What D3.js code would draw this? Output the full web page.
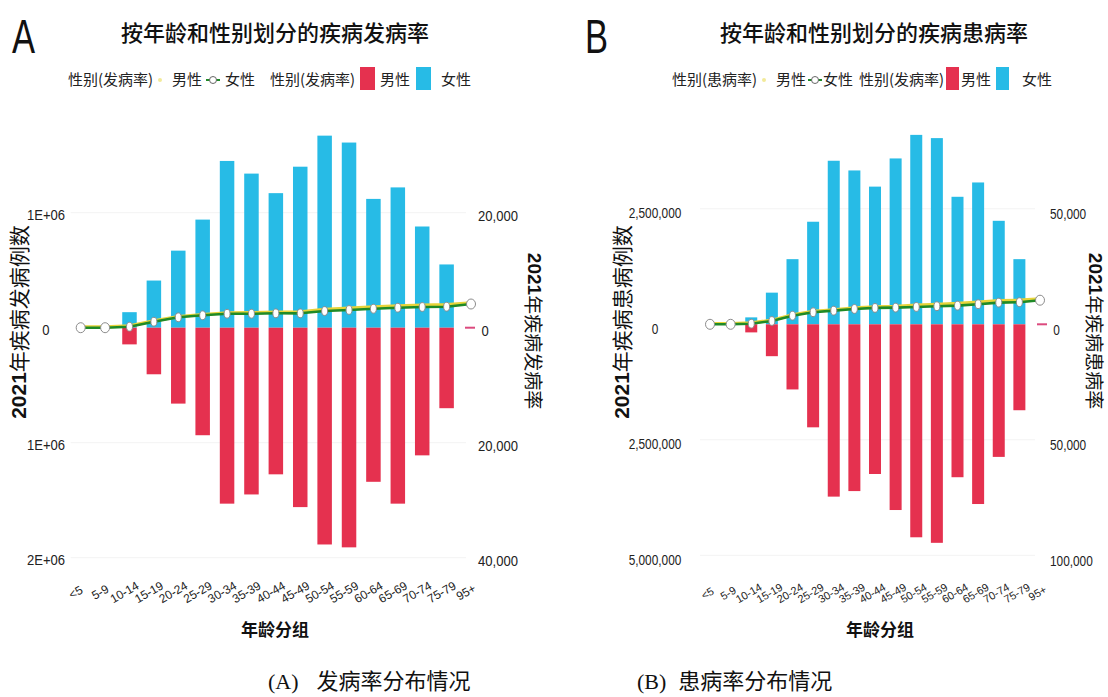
<!DOCTYPE html>
<html><head><meta charset="utf-8">
<script src="https://cdn.jsdelivr.net/npm/d3@7"></script>
<style>body{margin:0;background:#fff} svg{display:block}</style>
</head><body>
<svg id="c" width="1108" height="697"></svg>
<script>
// ---------- data ----------
const ageGroups = ["<5","5-9","10-14","15-19","20-24","25-29","30-34","35-39","40-44","45-49","50-54","55-59","60-64","65-69","70-74","75-79","95+"];

// Panel A: incidence
const incFemaleCases = [0,0,135000,410000,670000,940000,1450000,1340000,1170000,1400000,1670000,1610000,1120000,1220000,880000,550000,0];
const incMaleCases   = [0,0,145000,405000,660000,935000,1530000,1450000,1275000,1560000,1885000,1910000,1340000,1530000,1110000,700000,0];
const incFemaleRate  = [0,0,170,1040,1810,2160,2430,2430,2500,2500,2900,3080,3300,3480,3600,3650,4120];
const incMaleRate    = [0,0,170,1040,1810,2160,2460,2490,2570,2620,3060,3250,3480,3650,3790,3860,4180];
const incLeftTicks   = [1000000,0,-1000000,-2000000];
const incRightTicks  = [20000,0,-20000,-40000];

// Panel B: prevalence
const prevFemaleCases = [0,0,150000,685000,1410000,2220000,3540000,3330000,2980000,3590000,4100000,4030000,2760000,3070000,2240000,1410000,0];
const prevMaleCases   = [0,0,175000,690000,1410000,2230000,3730000,3610000,3240000,4020000,4610000,4730000,3310000,3890000,2870000,1860000,0];
const prevFemaleRate  = [0,0,260,1430,3740,5220,5910,6650,7090,7220,7520,7830,8090,8700,9390,9570,10430];
const prevMaleRate    = [0,0,260,1430,3740,5220,5960,6760,7260,7460,7920,8320,8680,9320,9900,10080,10650];
const prevLeftTicks   = [2500000,0,-2500000,-5000000];
const prevRightTicks  = [50000,0,-50000,-100000];

// ---------- drawing ----------
const svg = d3.select("#c");
const CJK = "'Noto Sans CJK SC', sans-serif";
const LAT = "'Liberation Sans', Arial, sans-serif";
const BLUE = "#27bbe6", RED = "#e5314f", GREEN = "#1f8a27", YELLOW = "#e8d43a";

function panel(cfg) {
  const g = svg.append("g");
  const x = d3.scalePoint().domain(ageGroups).range(cfg.xRange);
  const yL = d3.scaleLinear().domain(cfg.leftDomain).range(cfg.yRange);
  const yR = d3.scaleLinear().domain(cfg.rightDomain).range(cfg.yRange);
  const bw = cfg.barWidth;

  // faint grid
  g.append("g").selectAll("line").data(cfg.leftTicks.filter(d => d !== 0)).join("line")
    .attr("x1", cfg.xRange[0] - 10).attr("x2", cfg.xRange[1] - 5)
    .attr("y1", d => yL(d)).attr("y2", d => yL(d))
    .attr("stroke", "#f3f3f3").attr("stroke-width", 1);

  const rows = ageGroups.map((a, i) => ({a, f: cfg.femaleCases[i], m: cfg.maleCases[i], fr: cfg.femaleRate[i], mr: cfg.maleRate[i]}));
  const barRows = rows.filter(d => d.f > 0 || d.m > 0);

  g.append("g").selectAll("rect").data(barRows).join("rect")
    .attr("x", d => x(d.a) - bw / 2).attr("width", bw)
    .attr("y", d => yL(d.f)).attr("height", d => yL(0) - yL(d.f))
    .attr("fill", BLUE);
  g.append("g").selectAll("rect").data(barRows).join("rect")
    .attr("x", d => x(d.a) - bw / 2).attr("width", bw)
    .attr("y", yL(0)).attr("height", d => yL(-d.m) - yL(0))
    .attr("fill", RED);

  // lines
  const lineM = d3.line().x(d => x(d.a)).y(d => yR(d.mr) - 0.8);
  const lineF = d3.line().x(d => x(d.a)).y(d => yR(d.fr));
  g.append("path").datum(rows).attr("d", lineM).attr("fill", "none")
    .attr("stroke", YELLOW).attr("stroke-width", 3.2).attr("stroke-linejoin", "round");
  g.append("path").datum(rows).attr("d", lineF).attr("fill", "none")
    .attr("stroke", GREEN).attr("stroke-width", 2.6).attr("stroke-linejoin", "round");

  const n = rows.length;
  g.append("g").selectAll("ellipse").data(rows).join("ellipse")
    .attr("cx", d => x(d.a)).attr("cy", d => yR(d.fr))
    .attr("rx", (d, i) => (i < 2 || i === n - 1) ? 4.5 : 3)
    .attr("ry", (d, i) => (i < 2 || i === n - 1) ? 5 : 4.4)
    .attr("fill", "#fff").attr("stroke", "#8c8c8c").attr("stroke-width", 1);

  // left axis
  const ax = g.append("g").attr("transform", `translate(${cfg.leftLabelX},0)`)
    .call(d3.axisLeft(yL).tickValues(cfg.leftTicks).tickSize(0).tickPadding(0).tickFormat(cfg.leftFmt));
  ax.select(".domain").remove();
  ax.selectAll("text").attr("text-anchor", "middle").attr("x", 0).attr("dy", cfg.leftDy)
    .attr("transform", `scale(${cfg.tickScale},1)`)
    .attr("font-family", LAT).attr("font-size", 15).attr("fill", "#222");

  // right axis
  const ar = g.append("g").attr("transform", `translate(${cfg.rightLabelX},0)`)
    .call(d3.axisRight(yR).tickValues(cfg.rightTicks).tickSize(0).tickPadding(0).tickFormat(cfg.rightFmt));
  ar.select(".domain").remove();
  ar.selectAll("text").attr("text-anchor", "start").attr("x", d => d === 0 ? 4 : 0).attr("dy", cfg.rightDy)
    .attr("transform", `scale(${cfg.tickScale},1)`)
    .attr("font-family", LAT).attr("font-size", 15).attr("fill", "#222");
  g.append("line").attr("x1", cfg.rightLabelX - 13).attr("x2", cfg.rightLabelX - 3)
    .attr("y1", yR(0)).attr("y2", yR(0)).attr("stroke", "#dc4a7e").attr("stroke-width", 2);

  // x labels
  g.append("g").selectAll("text").data(ageGroups).join("text")
    .attr("transform", d => `translate(${x(d) + cfg.xLabelDx},${cfg.xLabelY}) rotate(-30)`)
    .attr("text-anchor", "middle").attr("dominant-baseline", "middle")
    .attr("font-family", LAT).attr("font-size", cfg.xLabelSize).attr("fill", "#222")
    .text(d => d);

  // x title
  g.append("text").attr("x", cfg.xTitleX).attr("y", 636).attr("text-anchor", "middle")
    .attr("font-family", CJK).attr("font-weight", 700).attr("font-size", 17).attr("fill", "#111")
    .text("年龄分组");

  // left title
  const lt = g.append("text").attr("transform", `translate(${cfg.leftTitleX},322) rotate(-90)`)
    .attr("text-anchor", "middle").attr("dominant-baseline", "central")
    .attr("font-size", 21).attr("fill", "#111");
  lt.append("tspan").attr("font-family", LAT).attr("font-weight", 700).text("2021");
  lt.append("tspan").attr("font-family", CJK).attr("font-weight", 400).text(cfg.leftTitle);

  // right title
  const rt = g.append("text").attr("transform", `translate(${cfg.rightTitleX},331) rotate(90)`)
    .attr("text-anchor", "middle").attr("dominant-baseline", "central")
    .attr("font-size", 19).attr("fill", "#111");
  rt.append("tspan").attr("font-family", LAT).attr("font-weight", 700).text("2021");
  rt.append("tspan").attr("font-family", CJK).attr("font-weight", 400).text(cfg.rightTitle);

  // panel letter
  g.append("text").attr("transform", `translate(${cfg.letterX},53) scale(0.72,1)`)
    .attr("font-family", LAT).attr("font-size", 48).attr("fill", "#111")
    .text(cfg.letter);

  // main title
  g.append("text").attr("x", cfg.titleX).attr("y", 41).attr("text-anchor", "middle")
    .attr("font-family", CJK).attr("font-weight", 500).attr("font-size", 22).attr("fill", "#111")
    .text(cfg.title);

  // legend
  const L = cfg.legend, ly = 85;
  const lt2 = (xx, s) => g.append("text").attr("x", xx).attr("y", ly).attr("font-family", CJK)
    .attr("font-size", 15).attr("fill", "#222").text(s);
  lt2(L.t1, cfg.legendLine);
  g.append("circle").attr("cx", L.ym).attr("cy", 80).attr("r", 2).attr("fill", "#f2ea9a");
  lt2(L.m1, "男性");
  g.append("line").attr("x1", L.gm - 7).attr("x2", L.gm + 7).attr("y1", 80).attr("y2", 80).attr("stroke", GREEN).attr("stroke-width", 2);
  g.append("circle").attr("cx", L.gm).attr("cy", 80).attr("r", 3.5).attr("fill", "#fff").attr("stroke", "#666").attr("stroke-width", 1);
  lt2(L.f1, "女性");
  lt2(L.t2, "性别(发病率)");
  g.append("rect").attr("x", L.rr).attr("y", 67).attr("width", L.rw).attr("height", 23).attr("fill", RED);
  lt2(L.m2, "男性");
  g.append("rect").attr("x", L.br).attr("y", 67).attr("width", L.rw).attr("height", 23).attr("fill", BLUE);
  lt2(L.f2, "女性");

  // caption
  const cap = svg.append("text").attr("x", cfg.capX).attr("y", 689).attr("font-size", 22).attr("fill", "#111");
  cap.append("tspan").attr("font-family", "'Liberation Serif', serif").text(cfg.capLetter);
  cap.append("tspan").attr("font-family", CJK).attr("dx", cfg.capGap).text(cfg.capText);
}

panel({
  xRange: [80.7, 471], barWidth: 14.5,
  leftDomain: [-2000000, 1000000], rightDomain: [-40000, 20000], yRange: [557.7, 212.7],
  femaleCases: incFemaleCases, maleCases: incMaleCases, femaleRate: incFemaleRate, maleRate: incMaleRate,
  leftTicks: incLeftTicks, rightTicks: incRightTicks,
  leftFmt: d => d === 0 ? "0" : (Math.abs(d) / 1e6) + "E+06",
  rightFmt: d => d3.format(",")(Math.abs(d)),
  leftLabelX: 46, rightLabelX: 478, leftDy: "0.42em", rightDy: "0.5em", tickScale: 0.87,
  xLabelDx: -4.5, xLabelY: 593, xLabelSize: 12, xTitleX: 275,
  leftTitleX: 18, leftTitle: "年疾病发病例数", rightTitleX: 535, rightTitle: "年疾病发病率",
  letter: "A", letterX: 12, title: "按年龄和性别划分的疾病发病率", titleX: 275,
  legendLine: "性别(发病率)",
  legend: {t1: 68, ym: 160, m1: 172, gm: 213, f1: 225, t2: 270, rr: 360, rw: 15, m2: 380, br: 416, f2: 441},
  capX: 268, capLetter: "(A)", capGap: 18, capText: "发病率分布情况"
});

panel({
  xRange: [710, 1040], barWidth: 12,
  leftDomain: [-5000000, 2500000], rightDomain: [-100000, 50000], yRange: [555.3, 208.8],
  femaleCases: prevFemaleCases, maleCases: prevMaleCases, femaleRate: prevFemaleRate, maleRate: prevMaleRate,
  leftTicks: prevLeftTicks, rightTicks: prevRightTicks,
  leftFmt: d => d3.format(",")(Math.abs(d)),
  rightFmt: d => d3.format(",")(Math.abs(d)),
  leftLabelX: 655, rightLabelX: 1050, leftDy: "0.6em", rightDy: "0.65em", tickScale: 0.79,
  xLabelDx: -2, xLabelY: 594, xLabelSize: 11, xTitleX: 880,
  leftTitleX: 621, leftTitle: "年疾病患病例数", rightTitleX: 1096, rightTitle: "年疾病患病率",
  letter: "B", letterX: 585, title: "按年龄和性别划分的疾病患病率", titleX: 874,
  legendLine: "性别(患病率)",
  legend: {t1: 672, ym: 764, m1: 776, gm: 815, f1: 823, t2: 859, rr: 946, rw: 13, m2: 961, br: 996, f2: 1022},
  capX: 637, capLetter: "(B)", capGap: 12, capText: "患病率分布情况"
});
</script>
</body></html>
